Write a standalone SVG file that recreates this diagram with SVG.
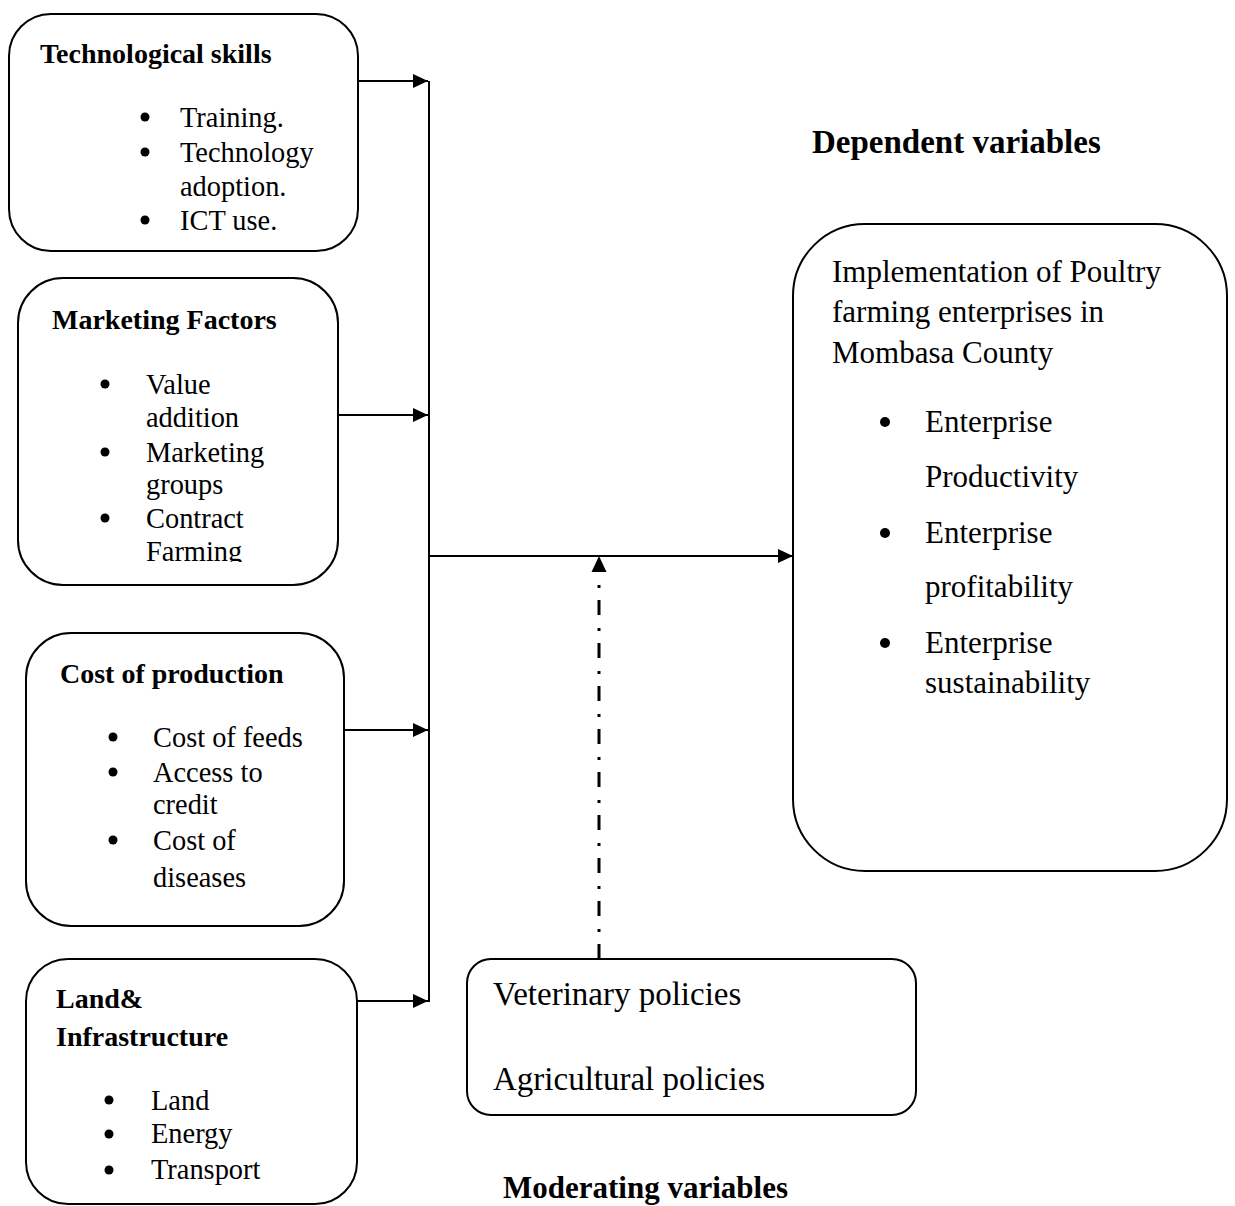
<svg xmlns="http://www.w3.org/2000/svg" width="1235" height="1206" viewBox="0 0 1235 1206">
<style>
.box{fill:#fff;stroke:#000;stroke-width:2}
.t{font-family:"Liberation Serif","Times New Roman",serif;fill:#000}
.b{font-weight:bold;font-size:28px}
.r{font-size:28.4px}
.big{font-size:31px}
.mod{font-size:33px}
.conn{stroke:#000;stroke-width:2;fill:none}
.dot{fill:#000}
</style>
<defs>
<marker id="arr" markerUnits="userSpaceOnUse" markerWidth="15" markerHeight="14" refX="15" refY="7" orient="auto">
<path d="M0,0 L15,7 L0,14 z" fill="#000"/>
</marker>
<clipPath id="clipFarm"><rect x="0" y="0" width="400" height="562"/></clipPath>
</defs>
<rect width="1235" height="1206" fill="#fff"/>

<g id="connectors">
<path class="conn" d="M358,81 H428" marker-end="url(#arr)"/>
<path class="conn" d="M338,415 H428" marker-end="url(#arr)"/>
<path class="conn" d="M344,730 H428" marker-end="url(#arr)"/>
<path class="conn" d="M357,1001 H428" marker-end="url(#arr)"/>
<path class="conn" d="M429,81 V1002"/>
<path class="conn" d="M429,556 H793" marker-end="url(#arr)"/>
<path d="M599,585 V959" stroke="#000" stroke-width="3" fill="none" stroke-dasharray="3 12 15 13"/>
<polygon points="599,556 591.5,572 606.5,572" fill="#000"/>
</g>

<g id="tech">
<rect class="box" x="9" y="14" width="349" height="237" rx="42" ry="42"/>
<text class="t b" x="40" y="63">Technological skills</text>
<circle class="dot" cx="145" cy="117" r="4.5"/>
<circle class="dot" cx="145" cy="152" r="4.5"/>
<circle class="dot" cx="145" cy="220" r="4.5"/>
<text class="t r" x="180" y="127">Training.</text>
<text class="t r" x="180" y="162">Technology</text>
<text class="t r" x="180" y="196">adoption.</text>
<text class="t r" x="180" y="230">ICT use.</text>
</g>

<g id="marketing">
<rect class="box" x="18" y="278" width="320" height="307" rx="45" ry="45"/>
<text class="t b" x="52" y="329">Marketing Factors</text>
<circle class="dot" cx="105" cy="384" r="4.5"/>
<circle class="dot" cx="105" cy="452" r="4.5"/>
<circle class="dot" cx="105" cy="518" r="4.5"/>
<text class="t r" x="146" y="394">Value</text>
<text class="t r" x="146" y="427">addition</text>
<text class="t r" x="146" y="462">Marketing</text>
<text class="t r" x="146" y="494">groups</text>
<text class="t r" x="146" y="528">Contract</text>
<text class="t r" x="146" y="561" clip-path="url(#clipFarm)">Farming</text>
</g>

<g id="cost">
<rect class="box" x="26" y="633" width="318" height="293" rx="45" ry="45"/>
<text class="t b" x="60" y="683">Cost of production</text>
<circle class="dot" cx="113" cy="737" r="4.5"/>
<circle class="dot" cx="113" cy="772" r="4.5"/>
<circle class="dot" cx="113" cy="840" r="4.5"/>
<text class="t r" x="153" y="747">Cost of feeds</text>
<text class="t r" x="153" y="782">Access to</text>
<text class="t r" x="153" y="814">credit</text>
<text class="t r" x="153" y="850">Cost of</text>
<text class="t r" x="153" y="887">diseases</text>
</g>

<g id="land">
<rect class="box" x="26" y="959" width="331" height="245" rx="42" ry="42"/>
<text class="t b" x="56" y="1008">Land&amp;</text>
<text class="t b" x="56" y="1046">Infrastructure</text>
<circle class="dot" cx="109" cy="1100" r="4.5"/>
<circle class="dot" cx="109" cy="1134" r="4.5"/>
<circle class="dot" cx="109" cy="1170" r="4.5"/>
<text class="t r" x="151" y="1110">Land</text>
<text class="t r" x="151" y="1143">Energy</text>
<text class="t r" x="151" y="1179">Transport</text>
</g>

<g id="dependent">
<text class="t b" x="812" y="153" style="font-size:33px">Dependent variables</text>
<rect class="box" x="793" y="224" width="434" height="647" rx="72" ry="72"/>
<text class="t big" x="832" y="282">Implementation of Poultry</text>
<text class="t big" x="832" y="322">farming enterprises in</text>
<text class="t big" x="832" y="363">Mombasa County</text>
<circle class="dot" cx="885" cy="422" r="5"/>
<circle class="dot" cx="885" cy="533" r="5"/>
<circle class="dot" cx="885" cy="643" r="5"/>
<text class="t big" x="925" y="432">Enterprise</text>
<text class="t big" x="925" y="487">Productivity</text>
<text class="t big" x="925" y="543">Enterprise</text>
<text class="t big" x="925" y="597">profitability</text>
<text class="t big" x="925" y="653">Enterprise</text>
<text class="t big" x="925" y="693">sustainability</text>
</g>

<g id="moderating">
<rect class="box" x="467" y="959" width="449" height="156" rx="24" ry="24"/>
<text class="t mod" x="493" y="1005">Veterinary policies</text>
<text class="t mod" x="493" y="1090">Agricultural policies</text>
<text class="t b" x="503" y="1198" style="font-size:31px">Moderating variables</text>
</g>
</svg>
